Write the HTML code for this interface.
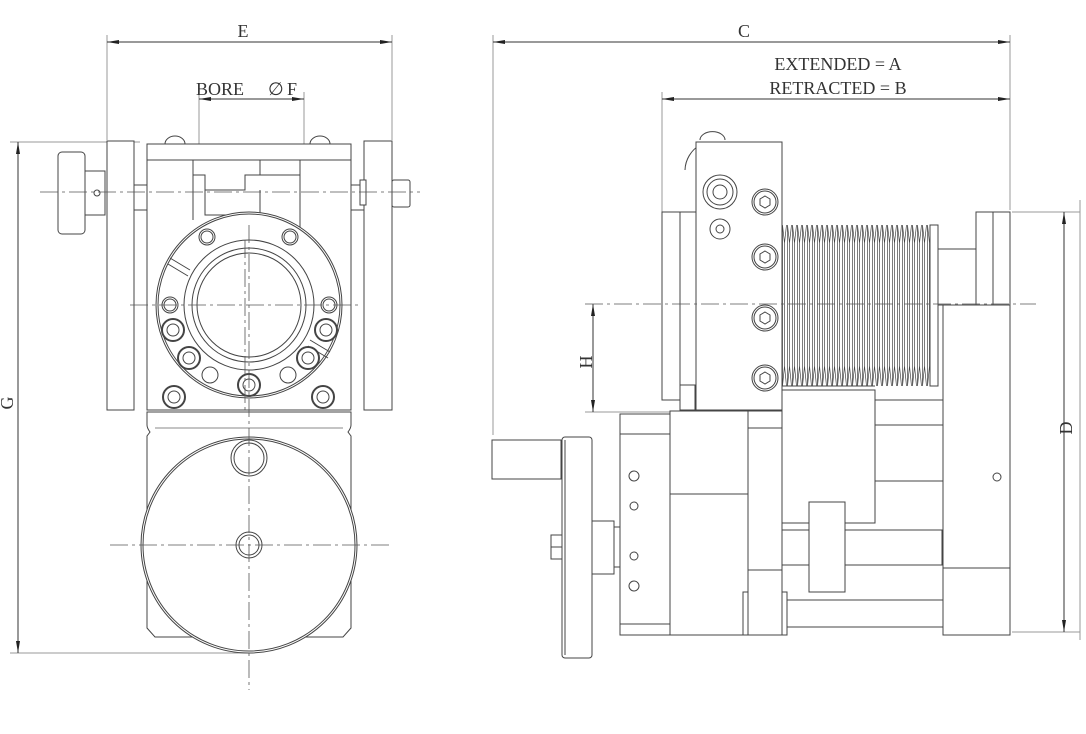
<!DOCTYPE html>
<html><head><meta charset="utf-8"><style>
html,body{margin:0;padding:0;background:#fff;}
svg{display:block;}
text{font-family:"Liberation Serif",serif;fill:#333;}
</style></head><body>
<svg width="1086" height="734" viewBox="0 0 1086 734" xmlns="http://www.w3.org/2000/svg">
<defs>
<marker id="a" viewBox="0 0 12 6" refX="12" refY="3" markerWidth="12" markerHeight="6" orient="auto-start-reverse" markerUnits="userSpaceOnUse"><path d="M0,1 L12,3 L0,5z" fill="#222"/></marker>
<pattern id="bel" x="782" y="0" width="5" height="734" patternUnits="userSpaceOnUse">
<path d="M0.5,225 L2.5,243 L4.5,225 M0.5,386 L2.5,366 L4.5,386 M2.5,243 V366 M0.5,225 V386" stroke="#444" stroke-width="0.7" fill="none"/>
</pattern>
</defs>
<g fill="none" stroke="#999" stroke-width="1">
<path d="M107,35V140 M392,35V140 M199,92V230 M304,92V230 M10,142H140 M10,653H250"/>
<path d="M493,35V435 M1010,35V210 M662,92V212 M1012,212H1080 M1012,632H1080 M585,412H680"/>
<path d="M1080,200V640"/>
</g>
<g fill="none" stroke="#333" stroke-width="1">
<line x1="107" y1="42" x2="392" y2="42" marker-start="url(#a)" marker-end="url(#a)"/>
<line x1="199" y1="99" x2="304" y2="99" marker-start="url(#a)" marker-end="url(#a)"/>
<line x1="18" y1="142" x2="18" y2="653" marker-start="url(#a)" marker-end="url(#a)"/>
<line x1="493" y1="42" x2="1010" y2="42" marker-start="url(#a)" marker-end="url(#a)"/>
<line x1="662" y1="99" x2="1010" y2="99" marker-start="url(#a)" marker-end="url(#a)"/>
<line x1="1064" y1="212" x2="1064" y2="632" marker-start="url(#a)" marker-end="url(#a)"/>
<line x1="593" y1="304" x2="593" y2="412" marker-start="url(#a)" marker-end="url(#a)"/>
</g>
<g font-size="18">
<text x="243" y="37" text-anchor="middle">E</text>
<text x="196" y="95">BORE</text>
<text x="268" y="95" fill="#888">∅</text><text x="287" y="95">F</text>
<text x="744" y="37" text-anchor="middle">C</text>
<text x="838" y="70" text-anchor="middle">EXTENDED = A</text>
<text x="838" y="94" text-anchor="middle">RETRACTED = B</text>
<text transform="translate(13,403) rotate(-90)" text-anchor="middle">G</text>
<text transform="translate(592,362) rotate(-90)" text-anchor="middle">H</text>
<text transform="translate(1072,428) rotate(-90)" text-anchor="middle">D</text>
</g>

<g fill="#fff" stroke="#444" stroke-width="1">
<path d="M147,412 L351,412 L351,425 Q351,428 348,432 L351,436 L351,628 L343,637 L155,637 L147,628 L147,436 L150,432 Q147,428 147,425Z"/>
<path d="M155,428 L343,428" stroke="#888"/>
<circle cx="249" cy="545" r="108"/><circle cx="249" cy="545" r="106"/>
<circle cx="249" cy="458" r="18"/><circle cx="249" cy="458" r="15"/>
<circle cx="249" cy="545" r="13"/><circle cx="249" cy="545" r="10"/>
<rect x="107" y="141" width="27" height="269"/>
<rect x="364" y="141" width="28" height="269"/>
<rect x="147" y="144" width="204" height="266"/>
<path d="M147,160H351 M193,160V220 M193,175H205V190H245V175H260V160 M260,175H300V160 M300,160V230 M205,190V215H260V190"/>
<path d="M134,185H147 M134,210H147 M351,185H364 M351,210H364"/>
<path d="M165,144a10,8 0 0 1 20,0z M310,144a10,8 0 0 1 20,0z"/>
<rect x="58" y="152" width="27" height="82" rx="4"/>
<rect x="85" y="171" width="20" height="44"/>
<circle cx="97" cy="193" r="3"/>
<rect x="392" y="180" width="18" height="27" rx="2"/>
<rect x="360" y="180" width="6" height="25"/>
<circle cx="249" cy="305" r="93"/><circle cx="249" cy="305" r="91"/>
<circle cx="249" cy="305" r="65"/>
<circle cx="249" cy="305" r="57"/><circle cx="249" cy="305" r="52"/>
<path d="M170,258L190,270 M168,264L188,276 M310,340L330,352 M308,346L328,358"/>
<g>
<circle cx="207" cy="237" r="8"/><circle cx="207" cy="237" r="6"/>
<circle cx="290" cy="237" r="8"/><circle cx="290" cy="237" r="6"/>
<circle cx="170" cy="305" r="8"/><circle cx="170" cy="305" r="6"/>
<circle cx="329" cy="305" r="8"/><circle cx="329" cy="305" r="6"/>
<circle cx="210" cy="375" r="8"/><circle cx="288" cy="375" r="8"/>
</g>
<g stroke-width="2">
<circle cx="173" cy="330" r="11"/><circle cx="326" cy="330" r="11"/>
<circle cx="189" cy="358" r="11"/><circle cx="308" cy="358" r="11"/>
<circle cx="249" cy="385" r="11"/>
<circle cx="174" cy="397" r="11"/><circle cx="323" cy="397" r="11"/>
</g>
<g>
<circle cx="173" cy="330" r="6"/><circle cx="326" cy="330" r="6"/>
<circle cx="189" cy="358" r="6"/><circle cx="308" cy="358" r="6"/>
<circle cx="249" cy="385" r="6"/>
<circle cx="174" cy="397" r="6"/><circle cx="323" cy="397" r="6"/>
</g>
</g>
<g stroke="#555" stroke-width="0.8" stroke-dasharray="18,4,3,4" fill="none">
<path d="M40,192H420 M130,305H362 M110,545H390 M249,225V690 M245,240V410"/>
</g>

<g fill="#fff" stroke="#444" stroke-width="1">
<rect x="782" y="390" width="93" height="133"/>
<rect x="875" y="400" width="68" height="81"/><path d="M875,425H943"/>
<rect x="943" y="305" width="67" height="330"/><path d="M943,568H1010"/>
<circle cx="997" cy="477" r="4"/>
<rect x="670" y="600" width="273" height="27"/>
<rect x="670" y="530" width="272" height="35"/>
<rect x="670" y="526" width="14" height="43"/>
<rect x="620" y="414" width="50" height="221"/><path d="M620,434H670 M620,624H670"/>
<circle cx="634" cy="476" r="5"/><circle cx="634" cy="506" r="4"/><circle cx="634" cy="556" r="4"/><circle cx="634" cy="586" r="5"/>
<rect x="670" y="411" width="78" height="224"/><path d="M670,494H748"/>
<rect x="748" y="470" width="3" height="27"/>
<rect x="748" y="411" width="34" height="224"/><path d="M748,428H782 M748,570H782"/>
<rect x="809" y="502" width="36" height="90"/>
<rect x="743" y="592" width="5" height="43"/><rect x="782" y="592" width="5" height="43"/>
<rect x="492" y="440" width="69" height="39"/>
<rect x="562" y="437" width="30" height="221" rx="3"/><path d="M565,440V655"/>
<rect x="592" y="521" width="22" height="53"/><rect x="614" y="527" width="6" height="40"/>
<rect x="551" y="535" width="11" height="24"/><path d="M551,547H562"/>
<path d="M685,170a30,30 0 0 1 15,-25 M700,140a12,8 0 0 1 25,0"/>
<rect x="662" y="212" width="18" height="188"/>
<rect x="680" y="212" width="16" height="195"/>
<rect x="680" y="385" width="15" height="25"/>
<rect x="696" y="142" width="86" height="268"/>
<rect x="782" y="225" width="148" height="161" fill="url(#bel)" stroke="none"/>
<path d="M782,386H875"/>
<rect x="930" y="225" width="8" height="161"/>
<rect x="938" y="249" width="38" height="56"/>
<rect x="976" y="212" width="34" height="93"/><path d="M993,212V305"/>
<g>
<circle cx="720" cy="192" r="17"/><circle cx="720" cy="192" r="13"/><circle cx="720" cy="192" r="7"/>
<circle cx="720" cy="229" r="10"/><circle cx="720" cy="229" r="4"/>
<circle cx="765" cy="202" r="13"/><circle cx="765" cy="202" r="11"/>
<circle cx="765" cy="257" r="13"/><circle cx="765" cy="257" r="11"/>
<circle cx="765" cy="318" r="13"/><circle cx="765" cy="318" r="11"/>
<circle cx="765" cy="378" r="13"/><circle cx="765" cy="378" r="11"/>
<path d="M765,196l5,3v6l-5,3l-5,-3v-6z M765,251l5,3v6l-5,3l-5,-3v-6z M765,312l5,3v6l-5,3l-5,-3v-6z M765,372l5,3v6l-5,3l-5,-3v-6z"/>
</g>
</g>
<g stroke="#555" stroke-width="0.8" stroke-dasharray="18,4,3,4" fill="none">
<path d="M585,304H1036"/>
</g>
</svg>
</body></html>
